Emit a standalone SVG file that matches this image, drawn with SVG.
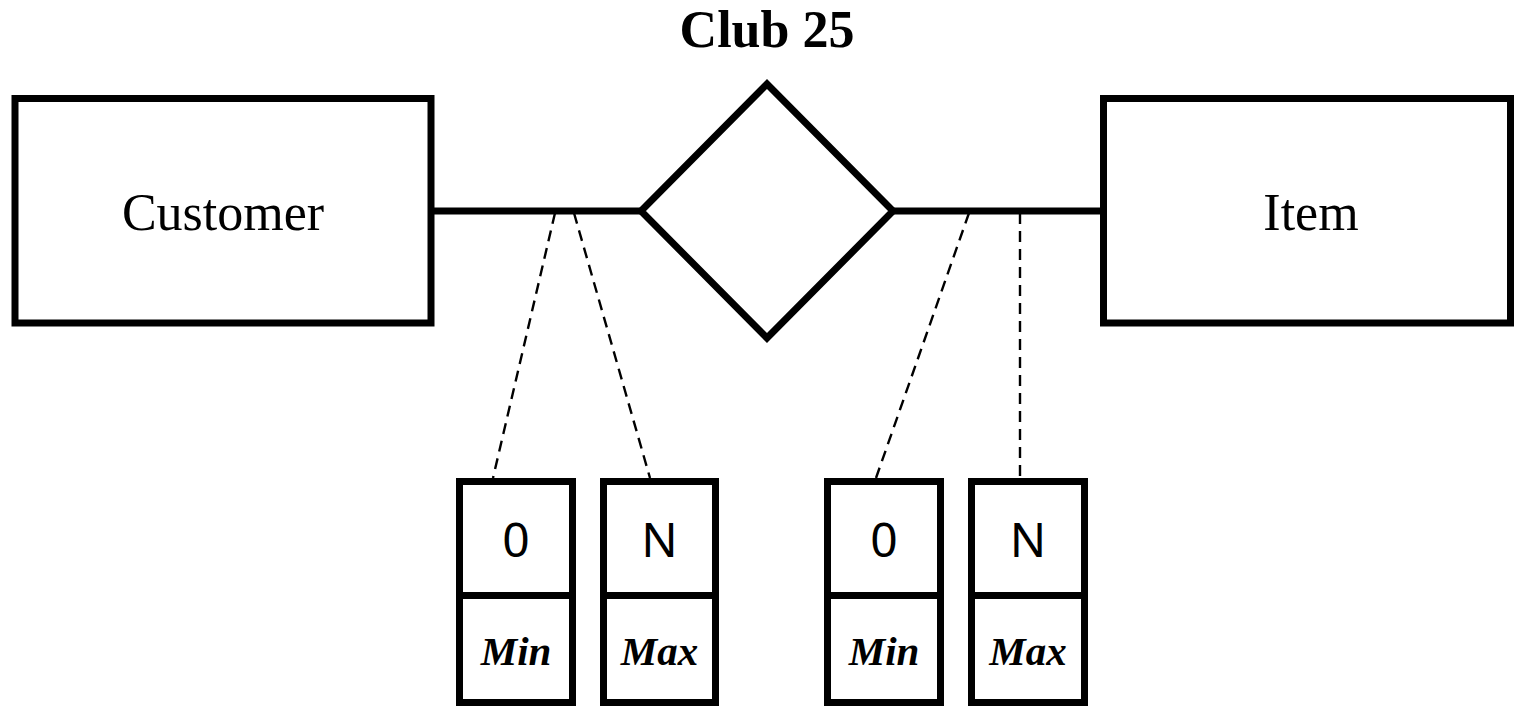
<svg xmlns="http://www.w3.org/2000/svg" width="1517" height="706" viewBox="0 0 1517 706">
<style>
.shape{fill:#fff;stroke:#000;stroke-width:7}
.link{stroke:#000;stroke-width:7;fill:none}
.dash{stroke:#000;stroke-width:2.4;stroke-dasharray:11,7;fill:none}
.ent{font-family:"Liberation Serif",serif;font-size:52px;text-anchor:middle;fill:#000}
.title{font-family:"Liberation Serif",serif;font-size:52px;font-weight:bold;text-anchor:middle;fill:#000}
.num{font-family:"Noto Sans",sans-serif;font-size:48px;text-anchor:middle;fill:#000}
.lbl{font-family:"Liberation Serif",serif;font-size:41px;font-weight:bold;font-style:italic;text-anchor:middle;fill:#000}
</style>
<rect width="1517" height="706" fill="#fff"/>
<g id="connectors">
<line class="link" x1="431" y1="211" x2="640" y2="211"/>
<line class="link" x1="894" y1="211" x2="1104" y2="211"/>
<line class="dash" x1="555" y1="213" x2="493" y2="478"/>
<line class="dash" x1="574" y1="213" x2="650" y2="478"/>
<line class="dash" x1="969" y1="213" x2="876" y2="478"/>
<line class="dash" x1="1020" y1="213" x2="1020" y2="478"/>
</g>
<g id="title"><text class="title" x="767" y="47">Club 25</text></g>
<g id="customer">
<rect class="shape" x="15" y="98.5" width="416" height="224.5"/>
<text class="ent" x="223" y="230">Customer</text>
</g>
<g id="club25">
<polygon class="shape" points="767,84 893,211 767,338 641,211"/>
</g>
<g id="item">
<rect class="shape" x="1103.5" y="98.5" width="407" height="224.5"/>
<text class="ent" x="1311" y="230">Item</text>
</g>
<g id="customer-min">
<rect class="shape" x="459.5" y="481.5" width="113" height="114"/>
<rect class="shape" x="459.5" y="595.5" width="113" height="107"/>
<text class="num" x="516" y="557">0</text>
<text class="lbl" x="516" y="665">Min</text>
</g>
<g id="customer-max">
<rect class="shape" x="603.5" y="481.5" width="112" height="114"/>
<rect class="shape" x="603.5" y="595.5" width="112" height="107"/>
<text class="num" x="659.5" y="557">N</text>
<text class="lbl" x="659.5" y="665">Max</text>
</g>
<g id="item-min">
<rect class="shape" x="827.5" y="481.5" width="113" height="114"/>
<rect class="shape" x="827.5" y="595.5" width="113" height="107"/>
<text class="num" x="884" y="557">0</text>
<text class="lbl" x="884" y="665">Min</text>
</g>
<g id="item-max">
<rect class="shape" x="971.5" y="481.5" width="113" height="114"/>
<rect class="shape" x="971.5" y="595.5" width="113" height="107"/>
<text class="num" x="1028" y="557">N</text>
<text class="lbl" x="1028" y="665">Max</text>
</g>
</svg>
